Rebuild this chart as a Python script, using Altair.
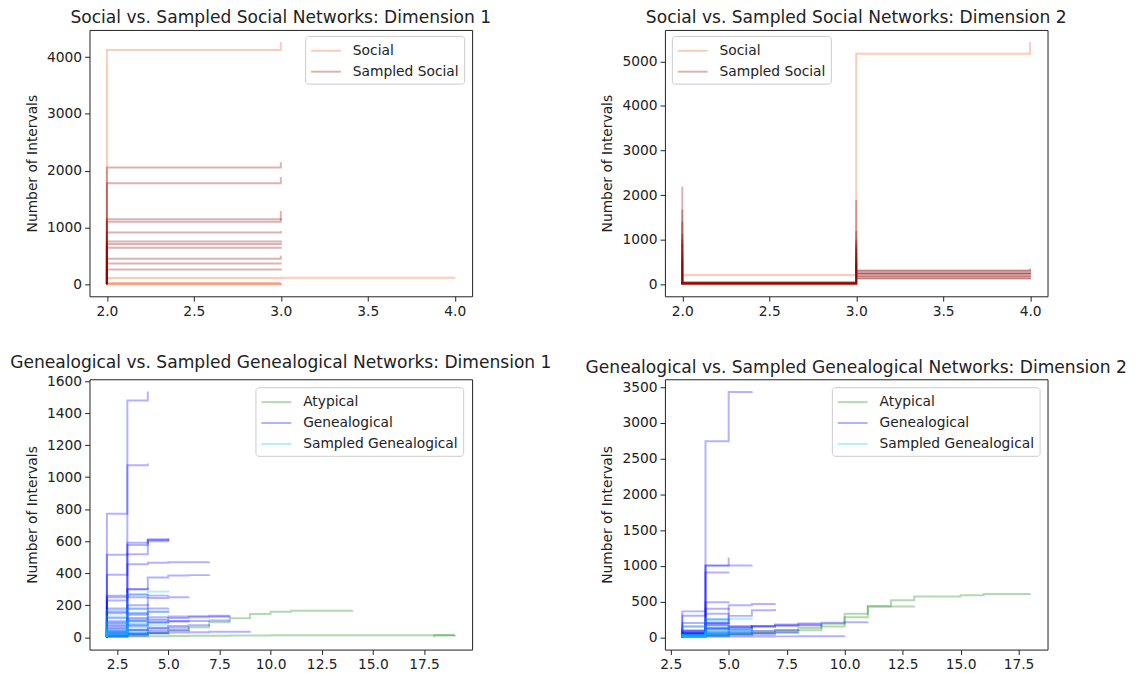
import altair as alt
import pandas as pd

# ---------------- data (cumulative counts per integer dimension value) ----------------
# Panel 1: Social vs Sampled Social, dimension 1 (start x = 2)
p1_social_x0 = [2, 2, 2, 2, 2, 2]
p1_social = [[4123, 4265], [111, 112, 113], [12, 16], [6, 9], [18, 22], [3, 5]]
p1_sampled_x0 = [2] * 11
p1_sampled = [[2054, 2150], [1777, 1890], [1143, 1290], [1100, 1160], [911, 935],
              [750, 770], [710, 730], [641, 660], [450, 500], [364, 380], [260, 270]]

# Panel 2: Social vs Sampled Social, dimension 2
p2_social_x0 = [2, 2, 2]
p2_social = [[205, 5169, 5433], [5, 8], [10, 14]]
p2_sampled_x = [2, 2, 3, 3, 4, 4]
p2_sampled_y = [
    [0, 2184, 20, 1891, 300, 352],
    [0, 1671, 30, 1194, 300, 330],
    [0, 1400, 15, 1000, 240, 270],
    [0, 1128, 25, 900, 240, 260],
    [0, 900, 10, 700, 180, 200],
    [0, 700, 35, 600, 180, 190],
    [0, 1000, 40, 800, 130, 150],
    [0, 500, 20, 450, 130, 140],
    [0, 600, 5, 500, 240, 250],
]

# Panel 3: Genealogical, dimension 1
p3_atyp_x0 = [2, 2, 18]
p3_atyp = [[5, 15, 28, 40, 63, 94, 119, 146, 160, 166, 166, 166, 168],
           [3, 5, 7, 8, 9, 10, 11, 11, 12, 12, 12, 12, 12, 12, 12, 12, 12, 13],
           [12, 13]]
p3_gen_x0 = [2] * 25
p3_gen = [[771, 1478, 1534], [516, 1074, 1085], [390, 590, 612, 618], [260, 576, 608, 615],
          [250, 518, 600, 610], [150, 456, 466, 468, 469, 470], [180, 300, 373, 385, 388, 390],
          [120, 180, 245, 250, 252], [230, 300, 310], [90, 265, 270], [160, 250, 260, 262],
          [60, 120, 125, 130, 132, 135, 137], [40, 100, 110, 120, 125, 128, 130],
          [70, 150, 160, 165], [30, 70, 90, 100, 105], [10, 20, 25, 30, 32, 34, 35, 38],
          [50, 110, 180, 185], [25, 45, 60, 70, 75, 78], [15, 30, 40, 45, 48], [100, 140, 150],
          [10, 20, 25, 28], [35, 80, 95, 100, 102, 104, 105], [80, 200, 210], [5, 10, 12],
          [20, 45, 55, 60, 62]]
p3_samp_x0 = [2] * 11
p3_samp = [[60, 270, 285, 292], [40, 150, 160, 172], [30, 100, 110, 115], [170, 175, 178],
           [20, 60, 75, 80], [15, 45, 55], [10, 30, 35, 38], [25, 80, 90], [5, 15, 20],
           [90, 100, 105], [130, 140]]

# Panel 4: Genealogical, dimension 2
p4_atyp_x0 = [3, 3]
p4_atyp = [[20, 40, 60, 80, 100, 130, 190, 330, 440, 520, 570, 570, 590, 605, 605, 610],
           [15, 30, 45, 60, 75, 100, 150, 280, 428, 430, 435]]
p4_gen_x0 = [3] * 21
p4_gen = [[60, 2746, 3435, 3440], [50, 1010, 1117], [45, 1000, 1005, 1010], [40, 908, 912],
          [100, 490, 500], [60, 200, 450, 465, 470], [50, 180, 300, 380, 395], [363, 400, 410],
          [302, 330, 340], [40, 80, 120, 160, 180, 195, 205, 210, 212],
          [30, 60, 100, 150, 170, 180, 185], [5, 8, 10, 12, 13, 14, 14, 15],
          [80, 120, 140, 150, 160, 165, 170], [25, 50, 70, 90, 100, 105], [150, 170, 180],
          [200, 250, 260], [35, 120, 160, 170], [15, 30, 45, 60, 65, 68], [10, 20, 30, 40, 45],
          [70, 200, 210], [90, 130, 140, 145]]
p4_samp_x0 = [3] * 10
p4_samp = [[30, 256, 260, 265], [40, 220, 225], [150, 160, 165], [20, 100, 110, 115],
           [15, 60, 70, 75], [10, 40, 45], [25, 80, 90, 95], [5, 20, 25], [35, 130, 140],
           [12, 50, 55, 58]]

titles = ["Social vs. Sampled Social Networks: Dimension 1",
          "Social vs. Sampled Social Networks: Dimension 2",
          "Genealogical vs. Sampled Genealogical Networks: Dimension 1",
          "Genealogical vs. Sampled Genealogical Networks: Dimension 2"]
social_groups = ["Social", "Sampled Social"]
social_colors = ["rgba(255,140,100,0.45)", "rgba(139,0,0,0.3)"]
gen_groups = ["Atypical", "Genealogical", "Sampled Genealogical"]
gen_colors = ["rgba(0,128,0,0.3)", "rgba(0,0,255,0.3)", "rgba(0,191,255,0.3)"]


# ---------------- helpers ----------------
def cum_path(x0, cum):
    xs = [x0] + [x0 + k + 1 for k in range(len(cum) - 1)] + [x0 + len(cum) - 1]
    ys = [0] + list(cum)
    return xs, ys


def add_rows(rows, group, prefix, paths):
    for j, (xs, ys) in enumerate(paths):
        for i, (x, y) in enumerate(zip(xs, ys)):
            rows.append({"x": x, "y": y, "series": f"{prefix}{j:02d}", "group": group, "i": i})


def cum_paths(x0s, cums):
    return [cum_path(a, c) for a, c in zip(x0s, cums)]


rows1 = []
add_rows(rows1, "Social", "a", cum_paths(p1_social_x0, p1_social))
add_rows(rows1, "Sampled Social", "b", cum_paths(p1_sampled_x0, p1_sampled))
rows2 = []
add_rows(rows2, "Social", "a", cum_paths(p2_social_x0, p2_social))
add_rows(rows2, "Sampled Social", "b", [(p2_sampled_x, ys) for ys in p2_sampled_y])
rows3 = []
add_rows(rows3, "Atypical", "a", cum_paths(p3_atyp_x0, p3_atyp))
add_rows(rows3, "Genealogical", "b", cum_paths(p3_gen_x0, p3_gen))
add_rows(rows3, "Sampled Genealogical", "c", cum_paths(p3_samp_x0, p3_samp))
rows4 = []
add_rows(rows4, "Atypical", "a", cum_paths(p4_atyp_x0, p4_atyp))
add_rows(rows4, "Genealogical", "b", cum_paths(p4_gen_x0, p4_gen))
add_rows(rows4, "Sampled Genealogical", "c", cum_paths(p4_samp_x0, p4_samp))

FONT = "DejaVu Sans"


def panel(rows, title, xdom, ydom, xticks, yticks, groups, colors, lx, ly, toff, h):
    df = pd.DataFrame(rows)
    legend = alt.Legend(title=None, orient="none", legendX=lx, legendY=ly,
                        symbolType="M-1,0H2.333",
                        symbolSize=324, symbolStrokeWidth=2, labelOffset=23, rowPadding=4,
                        padding=5, labelFontSize=13.9, labelFont=FONT, labelColor="#222",
                        fillColor="rgba(255,255,255,0.85)", strokeColor="#cccccc",
                        cornerRadius=3, symbolFillColor="transparent")
    return alt.Chart(df, title=alt.Title(title, offset=toff)).mark_line(
        interpolate="step-before", strokeWidth=2, clip=True
    ).encode(
        x=alt.X("x:Q", scale=alt.Scale(domain=xdom, nice=False, zero=False),
                axis=alt.Axis(values=xticks, format=".1f", title=None)),
        y=alt.Y("y:Q", scale=alt.Scale(domain=ydom, nice=False, zero=False),
                axis=alt.Axis(values=yticks, format="d", title="Number of Intervals")),
        color=alt.Color("group:N", scale=alt.Scale(domain=groups, range=colors), legend=legend),
        detail="series:N",
        order="i:Q",
    ).properties(width=385, height=h)


c1 = panel(rows1, titles[0], [1.9, 4.1], [-213, 4478], [2.0, 2.5, 3.0, 3.5, 4.0],
           [0, 1000, 2000, 3000, 4000], social_groups, social_colors, 217, 6, 4, 268)
c2 = panel(rows2, titles[1], [1.9, 4.1], [-272, 5705], [2.0, 2.5, 3.0, 3.5, 4.0],
           [0, 1000, 2000, 3000, 4000, 5000], social_groups, social_colors, 7, 6, 4, 268)
c3 = panel(rows3, titles[2], [1.15, 19.85], [-77, 1611], [2.5, 5.0, 7.5, 10.0, 12.5, 15.0, 17.5],
           [0, 200, 400, 600, 800, 1000, 1200, 1400, 1600], gen_groups, gen_colors, 167, 8, 3, 272)
c4 = panel(rows4, titles[3], [2.25, 18.75], [-172, 3612], [2.5, 5.0, 7.5, 10.0, 12.5, 15.0, 17.5],
           [0, 500, 1000, 1500, 2000, 2500, 3000, 3500], gen_groups, gen_colors, 168, 8, 3, 272)

chart = alt.concat(
    c1, c2, c3, c4, columns=2, spacing={"row": 83.5, "column": 194}, bounds="flush"
).resolve_scale(color="independent").properties(
    padding={"left": 1, "top": -2, "right": 5, "bottom": 5}
).configure(font=FONT).configure_view(
    stroke="#222", strokeWidth=1
).configure_axis(
    domain=False, grid=False, tickColor="#222", tickSize=4.9, tickWidth=1,
    labelFontSize=13.9, labelColor="#222", labelPadding=3, labelFont=FONT,
    titleFontSize=13.9, titleFontWeight="normal", titleColor="#222", titlePadding=7,
    titleFont=FONT
).configure_title(
    fontSize=17.2, fontWeight="normal", font=FONT, anchor="middle",
    baseline="alphabetic", color="#222"
)

chart.save("out.html", embed_options={"renderer": "svg", "actions": False})
